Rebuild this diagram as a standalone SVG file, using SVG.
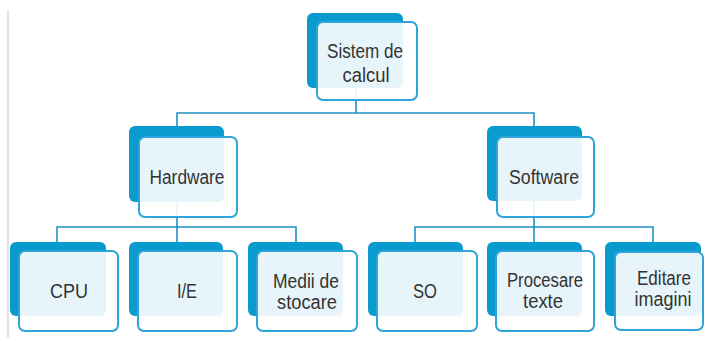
<svg xmlns="http://www.w3.org/2000/svg" width="705" height="338" viewBox="0 0 705 338">
<style>
.back{fill:#0a9bce;}
.front{fill:#ffffff;fill-opacity:0.9;stroke:#2ea5d8;stroke-width:2;}
.conn{fill:none;stroke:#1f92c4;stroke-width:1.6;}
.lbl{font-family:"Liberation Sans Narrow","Arial Narrow","Liberation Sans",sans-serif;font-size:20px;fill:#333333;text-anchor:middle;}
</style>
<rect width="705" height="338" fill="#ffffff"/>
<line x1="8" y1="10" x2="8" y2="338" stroke="#d9dddd" stroke-width="1.5"/>
<g id="connectors">
<path class="conn" d="M356,88V113M177,126V113H534V126"/>
<path class="conn" d="M177,201V227M57,242V227H296V242M177,227V242"/>
<path class="conn" d="M534,201V227M415,242V227H653V242M534,227V242"/>
</g>
<g id="sistem">
<rect class="back" x="307" y="13" width="96" height="75" rx="6"/>
<rect class="front" x="317" y="22" width="100" height="78" rx="6"/>
<text class="lbl" x="365" y="58" textLength="76" lengthAdjust="spacingAndGlyphs">Sistem de</text>
<text class="lbl" x="366" y="82" textLength="47" lengthAdjust="spacingAndGlyphs">calcul</text>
</g>
<g id="hardware">
<rect class="back" x="129" y="126" width="95" height="76" rx="6"/>
<rect class="front" x="139" y="137" width="98" height="80" rx="6"/>
<text class="lbl" x="187" y="184" textLength="75" lengthAdjust="spacingAndGlyphs">Hardware</text>
</g>
<g id="software">
<rect class="back" x="487" y="126" width="95" height="75" rx="6"/>
<rect class="front" x="497" y="137" width="97" height="80" rx="6"/>
<text class="lbl" x="544" y="184" textLength="70" lengthAdjust="spacingAndGlyphs">Software</text>
</g>
<g id="cpu">
<rect class="back" x="10" y="242" width="96" height="74" rx="6"/>
<rect class="front" x="19" y="251" width="99" height="80" rx="6"/>
<text class="lbl" x="69" y="298" textLength="38" lengthAdjust="spacingAndGlyphs">CPU</text>
</g>
<g id="ie">
<rect class="back" x="129" y="242" width="94" height="74" rx="6"/>
<rect class="front" x="138" y="251" width="99" height="80" rx="6"/>
<text class="lbl" x="187" y="298" textLength="20" lengthAdjust="spacingAndGlyphs">I/E</text>
</g>
<g id="medii">
<rect class="back" x="248" y="242" width="95" height="74" rx="6"/>
<rect class="front" x="257" y="251" width="100" height="80" rx="6"/>
<text class="lbl" x="306" y="288" textLength="66" lengthAdjust="spacingAndGlyphs">Medii de</text>
<text class="lbl" x="307" y="309" textLength="60" lengthAdjust="spacingAndGlyphs">stocare</text>
</g>
<g id="so">
<rect class="back" x="368" y="242" width="95" height="74" rx="6"/>
<rect class="front" x="377" y="251" width="100" height="80" rx="6"/>
<text class="lbl" x="425" y="298" textLength="24" lengthAdjust="spacingAndGlyphs">SO</text>
</g>
<g id="procesare">
<rect class="back" x="487" y="242" width="95" height="74" rx="6"/>
<rect class="front" x="496" y="251" width="98" height="80" rx="6"/>
<text class="lbl" x="545" y="287" textLength="76" lengthAdjust="spacingAndGlyphs">Procesare</text>
<text class="lbl" x="543" y="308" textLength="40" lengthAdjust="spacingAndGlyphs">texte</text>
</g>
<g id="editare">
<rect class="back" x="605" y="242" width="96" height="74" rx="6"/>
<rect class="front" x="615" y="252" width="88" height="78" rx="6"/>
<text class="lbl" x="664" y="285" textLength="54" lengthAdjust="spacingAndGlyphs">Editare</text>
<text class="lbl" x="663" y="306" textLength="57" lengthAdjust="spacingAndGlyphs">imagini</text>
</g>
</svg>
